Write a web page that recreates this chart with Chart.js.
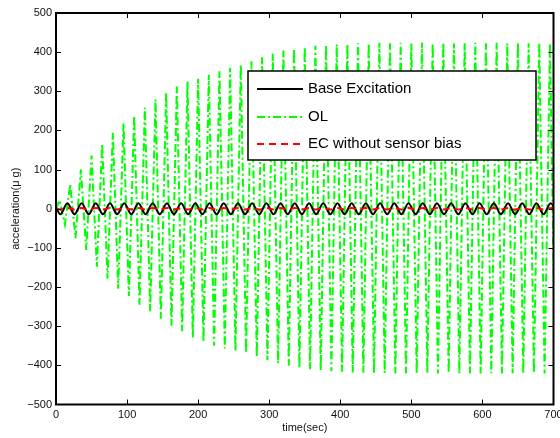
<!DOCTYPE html>
<html>
<head>
<meta charset="utf-8">
<script src="https://cdn.jsdelivr.net/npm/chart.js@4"></script>
<style>
  html, body { margin: 0; padding: 0; background: #fff; }
  #wrap { width: 560px; height: 438px; }
</style>
</head>
<body>
<div id="wrap"><canvas id="myChart" width="560" height="438"></canvas></div>
<script>
const xTicks = [0, 100, 200, 300, 400, 500, 600, 700];
const yTicks = [-500, -400, -300, -200, -100, 0, 100, 200, 300, 400, 500];
const seriesNames = ['Base Excitation', 'OL', 'EC without sensor bias'];

// base excitation and EC, read at each turning point (sec)
const baseTime = [0, 6, 16, 26, 36, 46, 56, 66, 76, 86, 96, 106, 116, 126, 136, 146, 156, 166,
  176, 186, 196, 206, 216, 226, 236, 246, 256, 266, 276, 286, 296, 306, 316, 326, 336, 346,
  356, 366, 376, 386, 396, 406, 416, 426, 436, 446, 456, 466, 476, 486, 496, 506, 516, 526,
  536, 546, 556, 566, 576, 586, 596, 606, 616, 626, 636, 646, 656, 666, 676, 686, 696, 706];
const baseAccel = [4,
  -14, 14, -14, 14, -14, 14, -14, 14, -14, 14, -14, 14, -14, 14, -14, 14, -14, 14,
  -14, 14, -14, 14, -14, 14, -14, 14, -14, 14, -14, 14, -14, 14, -14, 14, -14, 14,
  -14, 14, -14, 14, -14, 14, -14, 14, -14, 14, -14, 14, -14, 14, -14, 14, -14, 14,
  -14, 14, -14, 14, -14, 14, -14, 14, -14, 14, -14, 14, -14, 14, -14, 14, -14];
const ecAccel = [0,
  -2, 2, -2, 2, -2, 2, -2, 2, -2, 2, -2, 2, -2, 2, -2, 2, -2, 2,
  -2, 2, -2, 2, -2, 2, -2, 2, -2, 2, -2, 2, -2, 2, -2, 2, -2, 2,
  -2, 2, -2, 2, -2, 2, -2, 2, -2, 2, -2, 2, -2, 2, -2, 2, -2, 2,
  -2, 2, -2, 2, -2, 2, -2, 2, -2, 2, -2, 2, -2, 2, -2, 2, -2];

// OL, peak / trough pairs
const olTime = [0,
  5, 12.5, 20, 27.5, 35, 42.5, 50, 57.5, 65, 72.5, 80, 87.5, 95, 102.5, 110, 117.5,
  125, 132.5, 140, 147.5, 155, 162.5, 170, 177.5, 185, 192.5, 200, 207.5, 215, 222.5,
  230, 237.5, 245, 252.5, 260, 267.5, 275, 282.5, 290, 297.5, 305, 312.5, 320, 327.5,
  335, 342.5, 350, 357.5, 365, 372.5, 380, 387.5, 395, 402.5, 410, 417.5, 425, 432.5,
  440, 447.5, 455, 462.5, 470, 477.5, 485, 492.5, 500, 507.5, 515, 522.5, 530, 537.5,
  545, 552.5, 560, 567.5, 575, 582.5, 590, 597.5, 605, 612.5, 620, 627.5, 635, 642.5,
  650, 657.5, 665, 672.5, 680, 687.5, 695, 702.5];
const olAccel = [0,
  22, -40, 62, -75, 100, -105, 136, -148, 166, -178, 194, -204, 218, -223, 238, -245,
  258, -262, 279, -281, 297, -299, 312, -313, 325, -329, 332, -340, 342, -350,
  351, -357, 360, -363, 368, -369, 377, -378, 387, -387, 396, -395, 404, -401,
  409, -406, 413, -410, 416, -413, 418, -415, 420, -416, 421, -418, 423, -419,
  422, -420, 424, -419, 423, -421, 424, -420, 422, -421, 424, -420, 423, -421,
  424, -420, 422, -421, 423, -420, 424, -421, 423, -420, 424, -421, 422, -420,
  424, -421, 423, -420, 424, -421, 423, -420];

const toPoints = (xs, ys) => xs.map((t, i) => ({ x: t, y: ys[i] }));

Chart.defaults.font.family = "'Liberation Sans', Arial, sans-serif";
Chart.defaults.color = '#111';

const framePlugin = {
  id: 'frame',
  afterDatasetsDraw(chart) {
    const { ctx, chartArea: a, scales: { x, y } } = chart;
    ctx.save();
    ctx.strokeStyle = '#000';
    ctx.lineWidth = 1;
    ctx.beginPath();
    xTicks.slice(1, -1).forEach(v => {
      const px = Math.round(x.getPixelForValue(v)) + 0.5;
      ctx.moveTo(px, a.bottom); ctx.lineTo(px, a.bottom - 5);
      ctx.moveTo(px, a.top); ctx.lineTo(px, a.top + 5);
    });
    yTicks.slice(1, -1).forEach(v => {
      const py = Math.round(y.getPixelForValue(v)) + 0.5;
      ctx.moveTo(a.left, py); ctx.lineTo(a.left + 5, py);
      ctx.moveTo(a.right, py); ctx.lineTo(a.right - 5, py);
    });
    ctx.stroke();
    ctx.lineWidth = 2;
    ctx.strokeRect(a.left, a.top, a.right - a.left, a.bottom - a.top);
    ctx.restore();
  }
};

const legendPlugin = {
  id: 'boxLegend',
  afterDraw(chart) {
    const ctx = chart.ctx;
    const box = { x: 248, y: 71, w: 288, h: 89 };
    ctx.save();
    ctx.fillStyle = '#fff';
    ctx.fillRect(box.x, box.y, box.w, box.h);
    ctx.strokeStyle = '#000';
    ctx.lineWidth = 1.5;
    ctx.strokeRect(box.x, box.y, box.w, box.h);
    const rows = [89, 117, 144];
    const order = [1, 0, 2];
    ctx.font = "15px 'Liberation Sans', Arial, sans-serif";
    ctx.textBaseline = 'middle';
    rows.forEach((ry, i) => {
      const ds = chart.data.datasets[order[i]];
      ctx.strokeStyle = ds.borderColor;
      ctx.lineWidth = ds.borderWidth;
      ctx.setLineDash(ds.borderDash || []);
      ctx.beginPath();
      ctx.moveTo(257, ry);
      ctx.lineTo(303, ry);
      ctx.stroke();
      ctx.setLineDash([]);
      ctx.fillStyle = '#000';
      ctx.fillText(ds.label, 308, ry);
    });
    ctx.restore();
  }
};

const ctx = document.getElementById('myChart');

const chartData = {
  datasets: [
    {
      label: seriesNames[1],
      data: toPoints(olTime, olAccel),
      borderColor: '#00ff00',
      borderWidth: 2,
      borderDash: [8, 3, 2, 3],
      pointRadius: 0,
      tension: 0,
      order: 3,
    },
    {
      label: seriesNames[0],
      data: toPoints(baseTime, baseAccel),
      borderColor: '#000000',
      borderWidth: 2,
      pointRadius: 0,
      cubicInterpolationMode: 'monotone',
      order: 2,
    },
    {
      label: seriesNames[2],
      data: toPoints(baseTime, ecAccel),
      borderColor: '#ff0000',
      borderWidth: 2,
      borderDash: [7, 5],
      pointRadius: 0,
      cubicInterpolationMode: 'monotone',
      order: 1,
    },
  ],
};

const chartConfig = {
  type: 'line',
  data: chartData,
  options: {
    responsive: false,
    animation: false,
    events: [],
    layout: { padding: { top: 13, right: 6.5, bottom: 0, left: 0 } },
    plugins: { legend: { display: false }, tooltip: { enabled: false } },
    scales: {
      x: {
        type: 'linear',
        min: 0,
        max: 700,
        afterBuildTicks: (scale) => { scale.ticks = xTicks.map(v => ({ value: v })); },
        afterFit: (scale) => { scale.height = 33.5; scale.paddingLeft = 0; scale.paddingRight = 0; },
        grid: { display: false, drawTicks: false },
        border: { display: false },
        ticks: { padding: 4, font: { size: 11 }, maxRotation: 0, autoSkip: false, color: '#111' },
        title: { display: true, text: 'time(sec)', font: { size: 11 }, padding: { top: 0, bottom: 3 }, color: '#111' },
      },
      y: {
        min: -500,
        max: 500,
        afterBuildTicks: (scale) => { scale.ticks = yTicks.map(v => ({ value: v })); },
        afterFit: (scale) => { scale.width = 56; scale.paddingTop = 0; scale.paddingBottom = 0; },
        grid: { display: false, drawTicks: false },
        border: { display: false },
        ticks: {
          padding: 4,
          font: { size: 11 },
          color: '#111',
          callback: (v) => (v < 0 ? '\u2212' + Math.abs(v) : String(v)),
        },
        title: { display: true, text: 'acceleration(\u03bc g)', font: { size: 11 }, padding: { top: 9, bottom: 0 }, color: '#111' },
      },
    },
  },
  plugins: [framePlugin, legendPlugin],
};

new Chart(ctx, chartConfig);
</script>
</body>
</html>
